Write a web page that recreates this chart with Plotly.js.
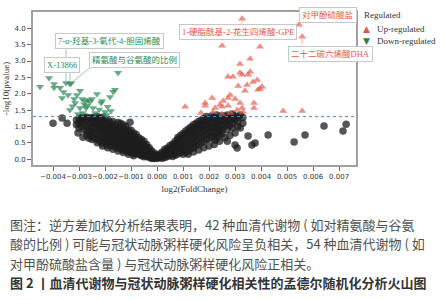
<!DOCTYPE html>
<html>
<head>
<meta charset="utf-8">
<script src="https://cdn.plot.ly/plotly-3.0.1.min.js"></script>
<style>html,body{margin:0;padding:0;background:#fff;}#chart{width:446px;height:300px;}</style>
</head>
<body>
<div id="chart"></div>
<script>
// ---- data (log2 fold change, -log10 p) ----
const downPoints = [
  [-0.0045,2.21],[-0.00415,2.48],[-0.00396,2.30],[-0.00396,2.18],[-0.00373,2.18],
  [-0.0035,2.33],[-0.00335,2.30],[-0.0033,2.33],[-0.00365,1.87],[-0.00342,1.96],
  [-0.00296,2.09],[-0.00308,1.96],[-0.00319,1.84],[-0.00288,1.84],[-0.00277,1.78],
  [-0.00265,1.81],[-0.0025,1.84],[-0.00231,1.99],[-0.00181,1.90],[-0.00169,2.06],
  [-0.0015,2.64],[-0.00212,1.78],[-0.00269,1.63],[-0.00296,1.56],[-0.00273,1.56],
  [-0.00246,1.56],[-0.00335,1.50],[-0.00285,1.41],[-0.00177,1.47],[-0.00315,1.72],
  [-0.00215,1.72],[-0.00258,1.75],[-0.00162,2.12],[-0.0020,1.44],[-0.00238,1.41],
  [-0.00304,1.38],[-0.00325,1.62],[-0.0019,1.60],[-0.00222,1.52],[-0.0036,2.05],
  [-0.0028,1.68],[-0.00195,1.35]
];
const upPoints = [
  [0.00327,4.29],[0.0025,3.47],[0.00396,3.44],[0.00546,4.11],[0.00558,3.74],
  [0.00319,2.91],[0.00358,3.07],[0.00319,2.64],[0.00358,2.67],[0.00273,2.52],
  [0.00292,2.52],[0.00327,2.58],[0.0035,2.58],[0.00369,2.36],[0.00385,2.42],
  [0.00404,2.21],[0.00388,2.12],[0.00346,2.27],[0.00312,2.24],[0.00396,2.15],
  [0.00338,2.09],[0.00281,1.96],[0.00273,1.87],[0.0030,1.84],[0.00254,1.78],
  [0.00212,1.87],[0.00185,1.72],[0.00223,1.56],[0.0025,1.60],[0.00273,1.63],
  [0.00319,1.72],[0.00327,1.56],[0.00373,1.72],[0.00373,1.56],[0.00331,1.44],
  [0.0025,1.38],[0.00281,1.41],[0.00215,1.44],[0.00169,1.41],[0.00108,1.60],
  [0.00242,1.66],[0.00308,1.50],[0.00485,1.47],[0.00558,1.47],[0.00185,1.63]
];
const nsPoints = [
  [-0.0040,1.10],[-0.00365,1.26],[-0.00346,1.10],[-0.00304,0.80],[-0.00285,0.67],[-0.00262,0.64],[-0.00104,1.13],
  [-0.0031,1.05],[-0.0031,1.20],
  [-0.0030,1.25],[-0.0030,0.95],[-0.0030,1.10],
  [-0.0029,1.15],[-0.0029,1.00],[-0.0029,1.27],[-0.0029,1.22],
  [-0.0028,1.28],[-0.0028,1.10],[-0.0028,0.90],
  [-0.0027,1.20],[-0.0027,1.02],[-0.0027,0.85],[-0.0027,1.28],[-0.0027,0.72],
  [-0.0026,1.25],[-0.0026,1.08],[-0.0026,0.92],[-0.0026,0.78],
  [-0.0025,1.15],[-0.0025,1.00],[-0.0025,0.85],[-0.0025,0.70],[-0.0025,1.27],[-0.0025,0.60],
  [-0.0024,1.28],[-0.0024,1.10],[-0.0024,0.95],[-0.0024,0.80],[-0.0024,0.65],[-0.0024,1.18],
  [-0.0023,1.20],[-0.0023,1.05],[-0.0023,0.90],[-0.0023,0.75],[-0.0023,0.60],[-0.0023,1.30],[-0.0023,0.50],
  [-0.0022,1.25],[-0.0022,1.10],[-0.0022,0.98],[-0.0022,0.85],[-0.0022,0.70],[-0.0022,0.55],[-0.0022,1.18],
  [-0.0021,1.15],[-0.0021,1.00],[-0.0021,0.88],[-0.0021,0.75],[-0.0021,0.62],[-0.0021,0.48],[-0.0021,1.28],[-0.0021,0.40],
  [-0.0020,1.20],[-0.0020,1.05],[-0.0020,0.92],[-0.0020,0.80],[-0.0020,0.68],[-0.0020,0.55],
  [-0.0019,1.10],[-0.0019,0.98],[-0.0019,0.85],[-0.0019,0.72],[-0.0019,0.60],[-0.0019,0.50],[-0.0019,0.42],[-0.0019,1.22],[-0.0019,0.35],
  [-0.0018,1.05],[-0.0018,0.92],[-0.0018,0.80],[-0.0018,0.68],[-0.0018,0.55],[-0.0018,0.45],[-0.0018,1.12],
  [-0.0017,1.00],[-0.0017,0.88],[-0.0017,0.75],[-0.0017,0.62],[-0.0017,0.50],[-0.0017,0.40],[-0.0017,1.15],[-0.0017,0.30],
  [-0.0016,0.95],[-0.0016,0.82],[-0.0016,0.70],[-0.0016,0.58],[-0.0016,0.46],[-0.0016,0.38],[-0.0016,1.05],
  [-0.0015,0.90],[-0.0015,0.78],[-0.0015,0.66],[-0.0015,0.55],[-0.0015,0.44],[-0.0015,0.34],[-0.0015,1.12],[-0.0015,0.25],
  [-0.0014,0.85],[-0.0014,0.72],[-0.0014,0.60],[-0.0014,0.50],[-0.0014,0.40],[-0.0014,0.32],[-0.0014,0.95],[-0.0014,1.10],
  [-0.0013,0.80],[-0.0013,0.68],[-0.0013,0.56],[-0.0013,0.45],[-0.0013,0.35],[-0.0013,0.27],[-0.0013,1.05],[-0.0013,0.95],[-0.0013,0.20],
  [-0.0012,0.75],[-0.0012,0.62],[-0.0012,0.52],[-0.0012,0.42],[-0.0012,0.32],[-0.0012,0.26],[-0.0012,0.85],[-0.0012,1.00],
  [-0.0011,0.70],[-0.0011,0.58],[-0.0011,0.48],[-0.0011,0.38],[-0.0011,0.28],[-0.0011,0.22],[-0.0011,0.90],[-0.0011,0.80],[-0.0011,0.15],
  [-0.0010,0.65],[-0.0010,0.54],[-0.0010,0.44],[-0.0010,0.34],[-0.0010,0.25],[-0.0010,0.20],[-0.0010,0.75],[-0.0010,0.88],
  [-0.0009,0.58],[-0.0009,0.48],[-0.0009,0.38],[-0.0009,0.30],[-0.0009,0.22],[-0.0009,0.16],[-0.0009,0.80],[-0.0009,0.70],[-0.0009,0.10],
  [-0.0008,0.52],[-0.0008,0.42],[-0.0008,0.33],[-0.0008,0.25],[-0.0008,0.18],[-0.0008,0.62],[-0.0008,0.75],
  [-0.0007,0.46],[-0.0007,0.37],[-0.0007,0.28],[-0.0007,0.20],[-0.0007,0.14],[-0.0007,0.65],[-0.0007,0.55],
  [-0.0006,0.40],[-0.0006,0.31],[-0.0006,0.23],[-0.0006,0.16],[-0.0006,0.10],[-0.0006,0.50],[-0.0006,0.60],
  [-0.0005,0.34],[-0.0005,0.26],[-0.0005,0.18],[-0.0005,0.12],[-0.0005,0.07],[-0.0005,0.55],[-0.0005,0.45],
  [-0.0004,0.28],[-0.0004,0.20],[-0.0004,0.13],[-0.0004,0.08],[-0.0004,0.36],[-0.0004,0.45],
  [-0.0003,0.22],[-0.0003,0.15],[-0.0003,0.09],[-0.0003,0.05],[-0.0003,0.35],[-0.0003,0.28],
  [-0.0002,0.16],[-0.0002,0.10],[-0.0002,0.05],[-0.0002,0.02],[-0.0002,0.25],
  [-0.0001,0.10],[-0.0001,0.05],[-0.0001,0.02],[-0.0001,0.18],
  [0.0000,0.06],[0.0000,0.02],[0.0000,0.12],
  [0.0001,0.10],[0.0001,0.04],[0.0001,0.16],
  [0.0002,0.15],[0.0002,0.08],[0.0002,0.03],[0.0002,0.22],
  [0.0003,0.20],[0.0003,0.12],[0.0003,0.05],[0.0003,0.30],
  [0.0004,0.26],[0.0004,0.16],[0.0004,0.08],[0.0004,0.34],
  [0.0005,0.32],[0.0005,0.22],[0.0005,0.12],[0.0005,0.42],
  [0.0006,0.38],[0.0006,0.27],[0.0006,0.16],[0.0006,0.08],[0.0006,0.46],
  [0.0007,0.45],[0.0007,0.33],[0.0007,0.22],[0.0007,0.12],[0.0007,0.55],
  [0.0008,0.52],[0.0008,0.40],[0.0008,0.28],[0.0008,0.16],[0.0008,0.60],[0.0008,0.66],
  [0.0009,0.60],[0.0009,0.46],[0.0009,0.33],[0.0009,0.20],[0.0009,0.72],
  [0.0010,0.68],[0.0010,0.54],[0.0010,0.40],[0.0010,0.26],[0.0010,0.15],[0.0010,0.78],
  [0.0011,0.75],[0.0011,0.60],[0.0011,0.46],[0.0011,0.32],[0.0011,0.20],[0.0011,0.86],
  [0.0012,0.82],[0.0012,0.68],[0.0012,0.54],[0.0012,0.38],[0.0012,0.25],[0.0012,0.92],[0.0012,0.15],
  [0.0013,0.88],[0.0013,0.74],[0.0013,0.60],[0.0013,0.45],[0.0013,0.32],[0.0013,0.98],
  [0.0014,0.95],[0.0014,0.80],[0.0014,0.66],[0.0014,0.50],[0.0014,0.35],[0.0014,1.05],[0.0014,0.22],
  [0.0015,1.00],[0.0015,0.86],[0.0015,0.72],[0.0015,0.56],[0.0015,0.42],[0.0015,1.10],
  [0.0016,1.06],[0.0016,0.92],[0.0016,0.78],[0.0016,0.62],[0.0016,0.45],[0.0016,1.15],[0.0016,0.28],
  [0.0017,1.10],[0.0017,0.96],[0.0017,0.82],[0.0017,0.66],[0.0017,0.50],[0.0017,1.20],
  [0.0018,1.15],[0.0018,1.02],[0.0018,0.88],[0.0018,0.72],[0.0018,0.55],[0.0018,1.25],[0.0018,0.35],
  [0.0019,1.18],[0.0019,1.05],[0.0019,0.90],[0.0019,0.75],[0.0019,0.60],[0.0019,1.30],
  [0.0020,1.22],[0.0020,1.08],[0.0020,0.95],[0.0020,0.80],[0.0020,0.62],[0.0020,0.40],
  [0.0021,1.25],[0.0021,1.10],[0.0021,0.96],[0.0021,0.82],[0.0021,0.68],[0.0021,1.32],
  [0.0022,1.28],[0.0022,1.12],[0.0022,1.00],[0.0022,0.85],[0.0022,0.70],[0.0022,0.45],
  [0.0023,1.22],[0.0023,1.08],[0.0023,0.92],[0.0023,0.78],[0.0023,0.64],[0.0023,1.35],
  [0.0024,1.28],[0.0024,1.15],[0.0024,1.00],[0.0024,0.85],[0.0024,0.55],
  [0.0025,1.20],[0.0025,1.05],[0.0025,0.90],[0.0025,0.78],[0.0025,1.33],
  [0.0026,1.30],[0.0026,1.15],[0.0026,1.00],[0.0026,0.65],
  [0.0027,1.22],[0.0027,1.08],[0.0027,0.90],[0.0027,1.35],
  [0.0028,1.30],[0.0028,1.18],[0.0028,1.02],[0.0028,0.72],
  [0.0029,1.25],[0.0029,1.10],[0.0029,0.95],[0.0029,1.38],
  [0.0030,1.32],[0.0030,1.20],[0.0030,0.80],
  [0.0031,1.28],[0.0031,1.15],[0.0031,1.00],
  [0.0032,1.35],[0.0033,1.27],[0.0033,1.10],[0.0032,0.95],
  [0.0027,0.55],[0.0030,0.43],[0.00223,0.58],[0.00242,0.74],[0.0035,0.71],[0.00427,0.74],
  [0.00377,0.49],[0.00365,0.43],[0.00308,0.34],[0.00527,0.52],[0.00569,0.74],[0.00642,1.01],
  [0.00715,0.86],[0.00727,1.07]
];
const xTicks = [-0.004,-0.003,-0.002,-0.001,0,0.001,0.002,0.003,0.004,0.005,0.006,0.007];
const yTicks = [0,0.5,1.0,1.5,2.0,2.5,3.0,3.5,4.0];
const pThreshold = 0.05;
const legendTitle = 'Regulated';
const seriesNames = ['Up-regulated', 'Down-regulated'];
const labelNames = {
  a: '7-α-羟基-3-氧代-4-胆固烯酸',
  b: '精氨酸与谷氨酸的比例',
  c: 'X-13866',
  d: '1-硬脂酰基-2-花生四烯酸-GPE',
  e: '对甲酚硫酸盐',
  f: '二十二碳六烯酸DHA'
};
const captionLines = [
  '图注：逆方差加权分析结果表明，42 种血清代谢物 ( 如对精氨酸与谷氨',
  '酸的比例 ) 可能与冠状动脉粥样硬化风险呈负相关，54 种血清代谢物 ( 如',
  '对甲酚硫酸盐含量 ) 与冠状动脉粥样硬化风险正相关。',
  '图 2 丨血清代谢物与冠状动脉粥样硬化相关性的孟德尔随机化分析火山图'
];

const px = a => a.map(p => p[0]);
const py = a => a.map(p => p[1]);
const GREEN = '#2e8b57', RED = '#e8584a';
const SERIF = '"Liberation Serif", "Noto Sans CJK SC", serif';

const traces = [
  {x: px(nsPoints), y: py(nsPoints), type: 'scatter', mode: 'markers', showlegend: false, name: 'Not significant',
   marker: {color: '#1e1e1e', size: 7.5, opacity: 0.75, line: {width: 0}}, hoverinfo: 'skip'},
  {x: px(upPoints), y: py(upPoints), type: 'scatter', mode: 'markers', name: seriesNames[0], showlegend: false,
   marker: {color: RED, size: 7, symbol: 'triangle-up', opacity: 0.68, line: {width: 0}}},
  {x: px(downPoints), y: py(downPoints), type: 'scatter', mode: 'markers', name: seriesNames[1], showlegend: false,
   marker: {color: GREEN, size: 7, symbol: 'triangle-down', opacity: 0.72, line: {width: 0}}}
];

function arrow(pt, ax, ay, color) {
  return {x: pt[0], y: pt[1], xref: 'x', yref: 'y', text: '', showarrow: true,
    arrowhead: 0, arrowwidth: 0.8, arrowcolor: color, ax: ax, ay: ay, standoff: 2};
}
function box(text, x, y, color) {
  return {x: x, y: y, xref: 'x', yref: 'y', text: text, showarrow: false,
    font: {family: SERIF, size: 8.5, color: color}, bgcolor: '#ffffff',
    bordercolor: '#c8c8c8', borderwidth: 1, borderpad: 2};
}
function ptext(text, x, y, opts) {
  return Object.assign({x: x, y: y, xref: 'paper', yref: 'paper', xanchor: 'left', yanchor: 'middle',
    showarrow: false, text: text}, opts);
}
const annotations = [
  arrow(downPoints[5], 0, -35, '#7fbf9a'),
  arrow(downPoints[6], 0, -13, '#7fbf9a'),
  arrow(downPoints[7], 21, -17, '#7fbf9a'),
  arrow(upPoints[0], 0, 6, '#f0a098'),
  arrow(upPoints[3], 3, -4, '#f0a098'),
  arrow(upPoints[4], 0, 9, '#f0a098'),
  box(labelNames.a, -0.001846, 3.62, GREEN),
  box(labelNames.b, -0.000885, 3.04, GREEN),
  box(labelNames.c, -0.003654, 2.88, GREEN),
  box(labelNames.d, 0.003115, 3.90, RED),
  box(labelNames.e, 0.006577, 4.42, RED),
  box(labelNames.f, 0.006654, 3.23, RED),
  // legend
  ptext(legendTitle, 1.0186, 0.980, {font: {family: SERIF, size: 9, color: '#333'}}),
  ptext('▲', 1.034, 0.891, {xanchor: 'center', font: {family: '"DejaVu Sans", sans-serif', size: 9, color: '#e0574a'}}),
  ptext('▼', 1.034, 0.812, {xanchor: 'center', font: {family: '"DejaVu Sans", sans-serif', size: 9, color: '#2d7f50'}}),
  ptext(seriesNames[0], 1.0588, 0.889, {font: {family: SERIF, size: 9, color: '#333'}}),
  ptext(seriesNames[1], 1.0588, 0.808, {font: {family: SERIF, size: 9, color: '#333'}})
];
const capY = [-0.392, -0.516, -0.641, -0.765];
captionLines.forEach((t, i) => {
  const last = i === captionLines.length - 1;
  annotations.push(ptext(last ? '<b>' + t + '</b>' : t, -0.0774, capY[i],
    {font: {family: '"Noto Sans CJK SC", sans-serif', size: 13, color: last ? '#333333' : '#505050'}}));
});

const axisCommon = {showline: true, linecolor: '#a0a0a0', linewidth: 2, mirror: true,
  showgrid: false, zeroline: false, ticks: 'outside', ticklen: 4, tickwidth: 1, tickcolor: '#666',
  tickfont: {family: '"DejaVu Sans", sans-serif', size: 7, color: '#333'}};

const layout = {
  width: 446, height: 300,
  margin: {l: 33, r: 90, t: 12, b: 135},
  paper_bgcolor: '#fff', plot_bgcolor: '#fff',
  showlegend: false,
  xaxis: Object.assign({}, axisCommon, {range: [-0.00477, 0.00765], tickvals: xTicks, tickformat: '.3f', tickangle: 0,
    title: {text: 'log2(FoldChange)', font: {family: SERIF, size: 9, color: '#333'}, standoff: 5}}),
  yaxis: Object.assign({}, axisCommon, {range: [-0.18, 4.5], tickvals: yTicks, tickformat: '.1f',
    title: {text: '-log10(pvalue)', font: {family: SERIF, size: 9, color: '#333'}, standoff: 3}}),
  shapes: [{type: 'line', xref: 'paper', yref: 'y', x0: 0, x1: 1, y0: -Math.log10(pThreshold), y1: -Math.log10(pThreshold),
    line: {color: '#3d8fd6', width: 1, dash: 'dot'}}],
  annotations: annotations
};
Plotly.newPlot('chart', traces, layout, {staticPlot: true, displayModeBar: false});
</script>
</body>
</html>
